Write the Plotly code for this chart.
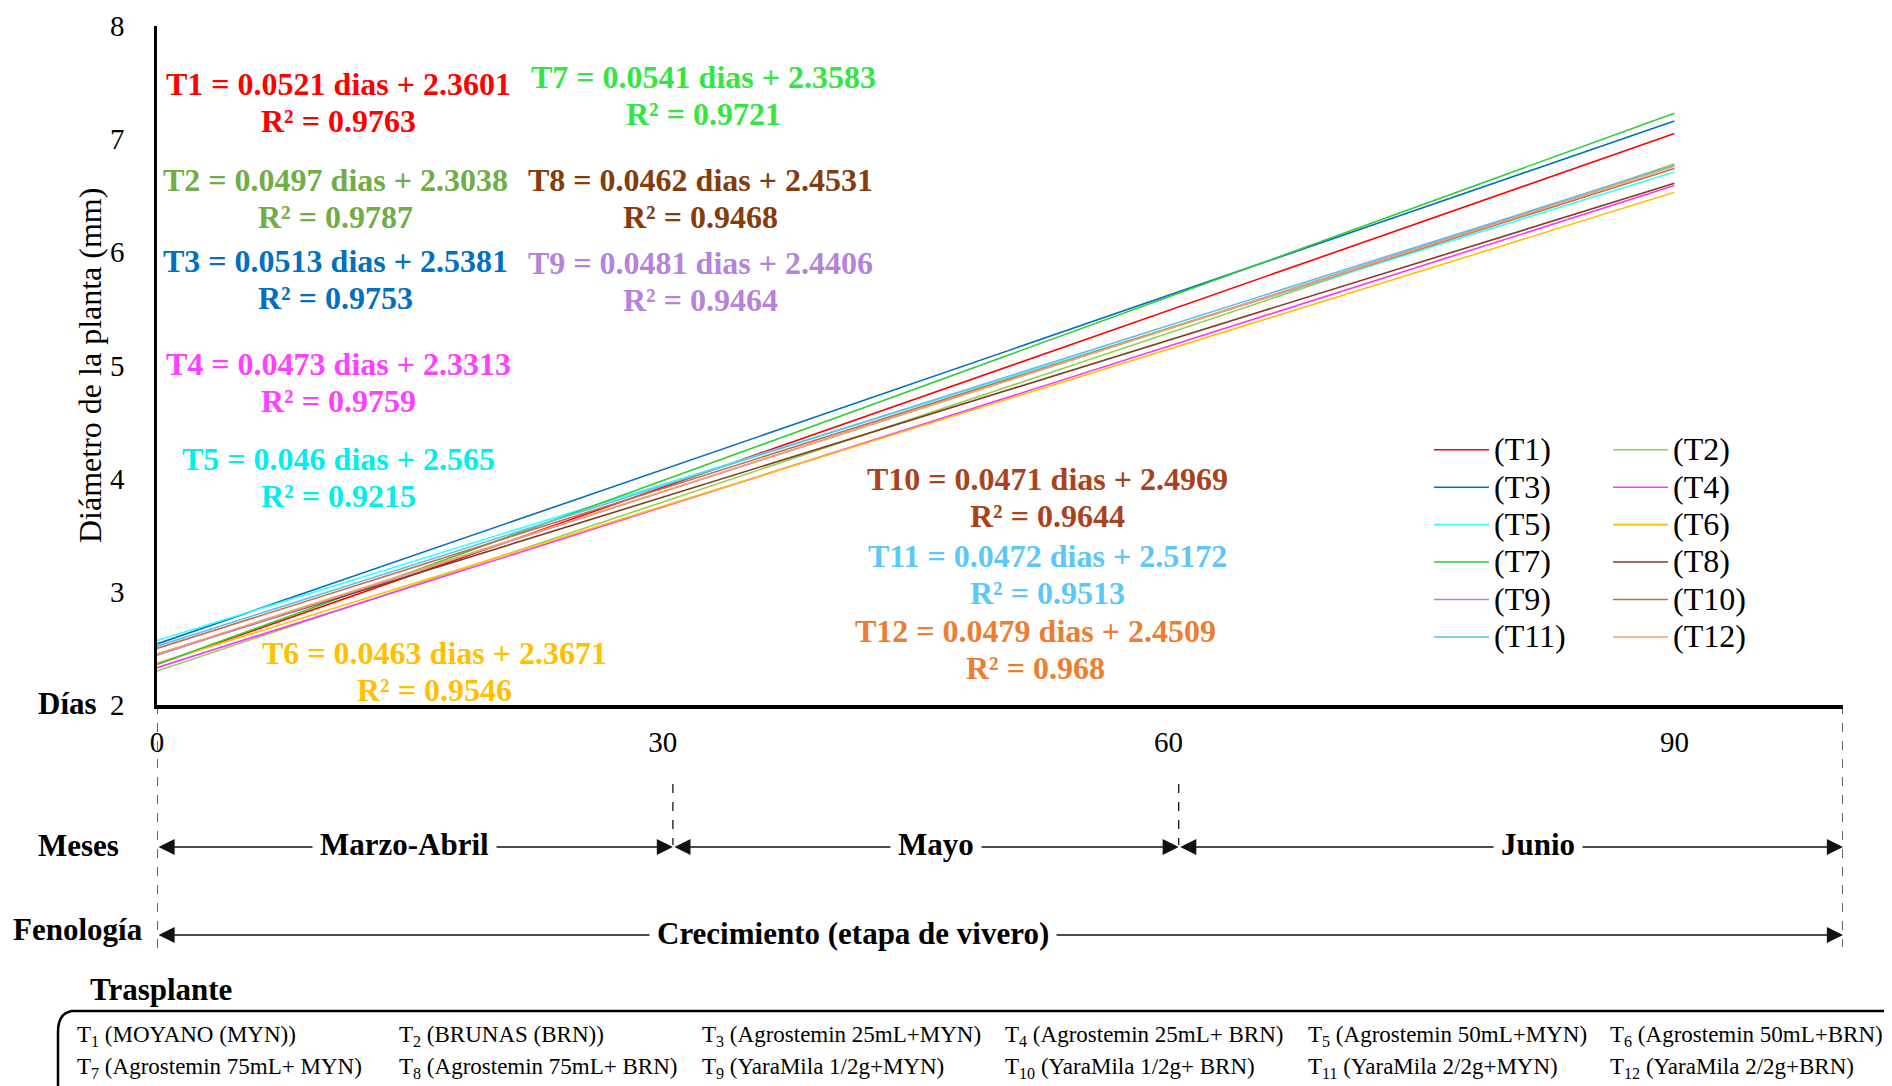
import plotly.graph_objects as go

# ---------------- data ----------------
treatments = ["T1", "T2", "T3", "T4", "T5", "T6", "T7", "T8", "T9", "T10", "T11", "T12"]
days = [0, 90]
diam_day0 = [2.36, 2.30, 2.54, 2.33, 2.57, 2.37, 2.36, 2.45, 2.44, 2.50, 2.52, 2.45]
diam_day90 = [7.05, 6.78, 7.16, 6.59, 6.71, 6.53, 7.23, 6.61, 6.77, 6.74, 6.77, 6.76]
slopes = ["0.0521", "0.0497", "0.0513", "0.0473", "0.046", "0.0463",
          "0.0541", "0.0462", "0.0481", "0.0471", "0.0472", "0.0479"]
intercepts = ["2.3601", "2.3038", "2.5381", "2.3313", "2.565", "2.3671",
              "2.3583", "2.4531", "2.4406", "2.4969", "2.5172", "2.4509"]
r2 = ["0.9763", "0.9787", "0.9753", "0.9759", "0.9215", "0.9546",
      "0.9721", "0.9468", "0.9464", "0.9644", "0.9513", "0.968"]
x_ticks = [0, 30, 60, 90]
months = ["Marzo-Abril", "Mayo", "Junio"]
month_bounds = [0, 30.6, 60.6, 100]
phenology = "Crecimiento (etapa de vivero)"
descriptions = [
    ("1", "(MOYANO (MYN))"), ("2", "(BRUNAS (BRN))"), ("3", "(Agrostemin 25mL+MYN)"),
    ("4", "(Agrostemin 25mL+ BRN)"), ("5", "(Agrostemin 50mL+MYN)"), ("6", "(Agrostemin 50mL+BRN)"),
    ("7", "(Agrostemin 75mL+ MYN)"), ("8", "(Agrostemin 75mL+ BRN)"), ("9", "(YaraMila 1/2g+MYN)"),
    ("10", "(YaraMila 1/2g+ BRN)"), ("11", "(YaraMila 2/2g+MYN)"), ("12", "(YaraMila 2/2g+BRN)"),
]

# ---------------- styles ----------------
line_colors = ["#FF0000", "#92D050", "#0070C0", "#FF33FF", "#33FFFF", "#FFC000",
               "#33CC33", "#7F3F1F", "#B980E0", "#C0704F", "#5BBDF0", "#F4A460"]
text_colors = ["#FF0000", "#70AD47", "#0070C0", "#FF40FF", "#00EEEE", "#FFC000",
               "#33E545", "#843C0C", "#B584DA", "#A9431E", "#5BC8F8", "#ED7D31"]
FONT = "Liberation Serif, Times New Roman, serif"

PAGE_W, PAGE_H = 1892, 1086
BODY = 8  # default body margin of the html page
FIG_W, FIG_H = PAGE_W - BODY, PAGE_H - BODY
L, R, T, B = 157, 1843, 26, 705   # plot area in page pixels


def px(x):
    return (x - L) / (R - L)


def py(y):
    return (B - y) / (B - T)


fig = go.Figure()
for i, t in enumerate(treatments):
    fig.add_trace(go.Scatter(
        x=days, y=[diam_day0[i], diam_day90[i]], mode="lines",
        name='<span style="font-size:32px">(' + t + ')</span>',
        line=dict(color=line_colors[i], width=1.6),
        legend="legend" if i % 2 == 0 else "legend2", showlegend=True,
    ))

# equation label positions (pixel centers in page)
eq_pos = [(338, 84), (335, 180), (335, 261), (338, 364), (338, 459), (434, 653),
          (703, 77), (700, 180), (700, 263), (1047, 479), (1047, 556), (1035, 631)]
r2_dy = 37
annotations = []


def ann(x, y, text, size, color="black", bold=False, **kw):
    d = dict(x=px(x), y=py(y), xref="paper", yref="paper", showarrow=False,
             text=("<b>%s</b>" % text) if bold else text,
             font=dict(family=FONT, size=size, color=color),
             xanchor="center", yanchor="middle")
    d.update(kw)
    annotations.append(d)


for i, t in enumerate(treatments):
    cx, cy = eq_pos[i]
    ann(cx, cy, "%s = %s dias + %s" % (t, slopes[i], intercepts[i]), 32, text_colors[i], True)
    ann(cx, cy + r2_dy, "R² = %s" % r2[i], 32, text_colors[i], True)

# y-axis title
ann(90, 366, "Diámetro de la planta (mm)", 32, textangle=-90)

# row labels
for txt, (cx, cy) in [("Días", (67, 703)), ("Meses", (78, 845)), ("Fenología", (78, 929)),
                      ("Trasplante", (161, 989))]:
    ann(cx, cy, txt, 31, bold=True)

# month arrows
Y_MONTH = 847
for j in range(3):
    annotations.append(dict(x=month_bounds[j + 1], y=py(Y_MONTH), xref="x", yref="paper",
                            ax=month_bounds[j], ay=0, axref="x", ayref="pixel",
                            text="", showarrow=True, arrowhead=2, arrowside="end+start",
                            arrowsize=2.3, arrowwidth=1.4, arrowcolor="#111"))
month_label_x = [404, 936, 1538]
for j, m in enumerate(months):
    ann(month_label_x[j], Y_MONTH - 3, m, 31, bold=True, bgcolor="white", borderpad=7)

# phenology arrow
Y_PHEN = 935
annotations.append(dict(x=month_bounds[-1], y=py(Y_PHEN), xref="x", yref="paper",
                        ax=month_bounds[0], ay=0, axref="x", ayref="pixel",
                        text="", showarrow=True, arrowhead=2, arrowside="end+start",
                        arrowsize=2.3, arrowwidth=1.4, arrowcolor="#111"))
ann(853, Y_PHEN - 2, phenology, 31, bold=True, bgcolor="white", borderpad=7)

# bottom description table
col_x = [75, 397, 700, 1003, 1306, 1608]
row_y = [1036, 1068]
for k, (num, desc) in enumerate(descriptions):
    r_, c_ = divmod(k, 6)
    ann(col_x[c_], row_y[r_], "T<sub>%s</sub> %s" % (num, desc), 23, xanchor="left")

shapes = []
# dashed guide lines
for xv, y0, y1 in [(0, 705, 955), (100, 705, 947), (30.6, 784, 845), (60.6, 784, 845)]:
    shapes.append(dict(type="line", xref="x", yref="paper", x0=xv, x1=xv, y0=py(y0), y1=py(y1),
                       line=dict(color="black", width=1.2, dash="dash")))
# rounded bracket box
path = "M %f,%f L %f,%f Q %f,%f %f,%f L %f,%f" % (
    px(1900), py(1011), px(72), py(1011), px(58), py(1013), px(58), py(1032), px(58), py(1090))
shapes.append(dict(type="path", xref="paper", yref="paper", path=path,
                   line=dict(color="black", width=2.5)))

legend_common = dict(yanchor="top", xanchor="left", bgcolor="rgba(0,0,0,0)",
                     font=dict(family=FONT, size=26.5), itemwidth=55, tracegroupgap=0)

fig.update_layout(
    width=FIG_W, height=FIG_H, autosize=False,
    margin=dict(l=L - BODY, r=PAGE_W - R, t=T - BODY, b=PAGE_H - B, pad=0, autoexpand=False),
    plot_bgcolor="white", paper_bgcolor="white",
    font=dict(family=FONT, color="black"),
    xaxis=dict(range=[0, 100], tickvals=x_ticks, showline=True, linecolor="black", linewidth=3.5,
               ticks="", ticklabelstandoff=8, tickfont=dict(family=FONT, size=29),
               showgrid=False, zeroline=False, fixedrange=True, automargin=False),
    yaxis=dict(range=[2, 8], dtick=1, showline=True, linecolor="black", linewidth=2.5,
               ticks="", ticklabelstandoff=24, tickfont=dict(family=FONT, size=29),
               showgrid=False, zeroline=False, fixedrange=True, automargin=False),
    legend=dict(x=px(1429), y=py(426), **legend_common),
    legend2=dict(x=px(1608), y=py(426), **legend_common),
    annotations=annotations, shapes=shapes, showlegend=True,
)

fig.write_html("out.html")
